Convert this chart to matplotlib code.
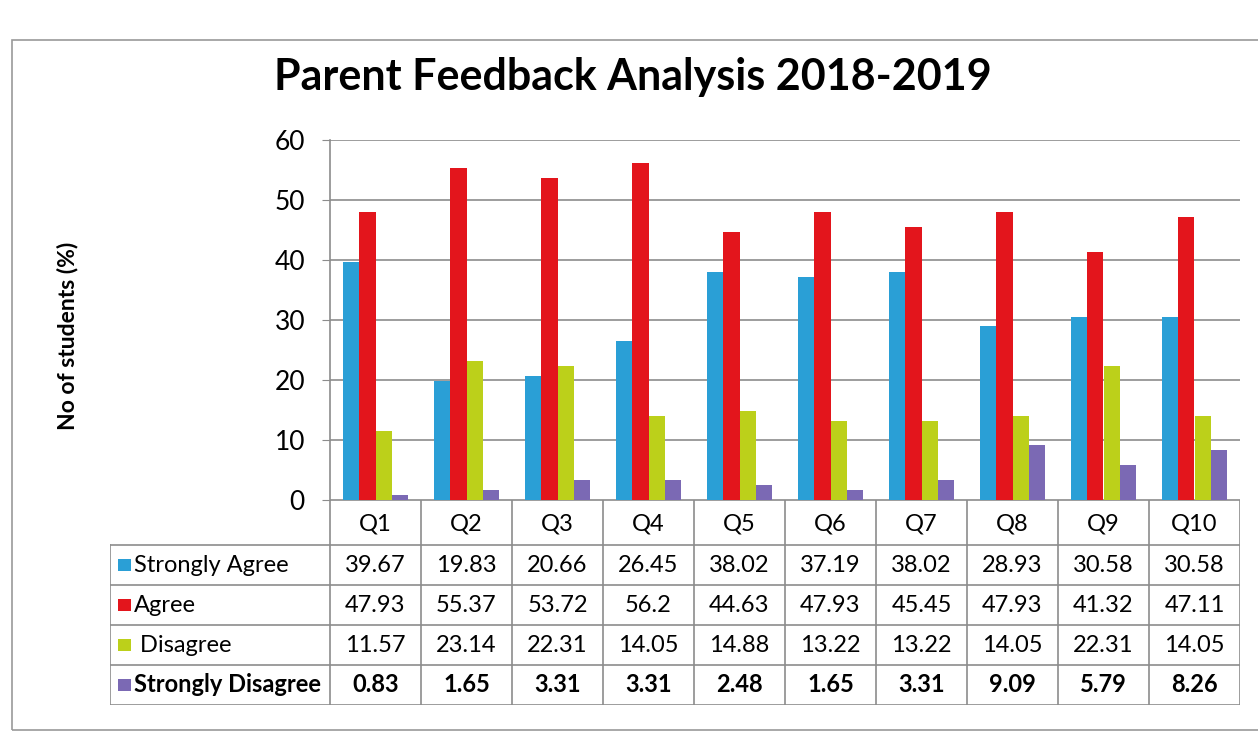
import matplotlib
matplotlib.use("Agg")
import matplotlib.pyplot as plt
from matplotlib.patches import Rectangle
import numpy as np

plt.rcParams['font.family'] = ['Lato', 'DejaVu Sans']

categories = ["Q1", "Q2", "Q3", "Q4", "Q5", "Q6", "Q7", "Q8", "Q9", "Q10"]
series_names = ["Strongly Agree", "Agree", "Disagree", "Strongly Disagree"]
strongly_agree = [39.67, 19.83, 20.66, 26.45, 38.02, 37.19, 38.02, 28.93, 30.58, 30.58]
agree = [47.93, 55.37, 53.72, 56.2, 44.63, 47.93, 45.45, 47.93, 41.32, 47.11]
disagree = [11.57, 23.14, 22.31, 14.05, 14.88, 13.22, 13.22, 14.05, 22.31, 14.05]
strongly_disagree = [0.83, 1.65, 3.31, 3.31, 2.48, 1.65, 3.31, 9.09, 5.79, 8.26]
table_text = [
    ["39.67", "19.83", "20.66", "26.45", "38.02", "37.19", "38.02", "28.93", "30.58", "30.58"],
    ["47.93", "55.37", "53.72", "56.2", "44.63", "47.93", "45.45", "47.93", "41.32", "47.11"],
    ["11.57", "23.14", "22.31", "14.05", "14.88", "13.22", "13.22", "14.05", "22.31", "14.05"],
    ["0.83", "1.65", "3.31", "3.31", "2.48", "1.65", "3.31", "9.09", "5.79", "8.26"],
]
row_labels = ["Strongly Agree", "Agree", " Disagree", "Strongly Disagree"]
colors = ["#2a9fd6", "#e3151c", "#bcd01a", "#7b69b4"]

W, H = 1258, 743
fig = plt.figure(figsize=(W / 100, H / 100), dpi=100)
fig.patch.set_facecolor("white")

def fx(px):
    return px / W

def fy(py):
    return 1 - py / H

# outer chart frame
fig.add_artist(Rectangle((fx(12), fy(730)), fx(1262) - fx(12), fy(40) - fy(730),
                         transform=fig.transFigure, fill=False, edgecolor="#9a9a9a", lw=1.2))

# main axes
L, R, T, B = 330, 1240, 140, 500
ax = fig.add_axes([fx(L), fy(B), fx(R) - fx(L), fy(T) - fy(B)])
x = np.arange(len(categories))
bw = 0.18
series = [strongly_agree, agree, disagree, strongly_disagree]
for i, (vals, c) in enumerate(zip(series, colors)):
    ax.bar(x + (i - 1.5) * bw, vals, width=bw, color=c, zorder=3)
ax.set_xlim(-0.5, len(categories) - 0.5)
ax.set_ylim(0, 60)
ax.set_yticks(range(0, 61, 10))
ax.yaxis.grid(True, color="#8c8c8c", lw=1.2, zorder=0)
ax.set_xticks([])
for s in ["top", "right", "bottom"]:
    ax.spines[s].set_visible(False)
ax.spines["left"].set_color("#8c8c8c")
ax.spines["left"].set_linewidth(1.2)
ax.tick_params(axis="y", length=6, color="#8c8c8c", labelsize=19, pad=12)

# y-axis title
fig.text(fx(67), fy(336), "No of students (%)", rotation=90, ha="center", va="center",
         fontsize=16.5, fontweight="bold")

# title
fig.text(fx(633), fy(77), "Parent Feedback Analysis 2018-2019", ha="center", va="center",
         fontsize=31, fontweight="bold")

# data table
TL, TT, TB = 110, 500, 705
tax = fig.add_axes([fx(TL), fy(TB), fx(R) - fx(TL), fy(TT) - fy(TB)])
lab_w = (L - TL) / ((R - L) / len(categories))
x0 = -0.5 - lab_w
tax.set_xlim(x0, len(categories) - 0.5)
tax.set_ylim(TB - TT, 0)
tax.axis("off")
row_edges = [0, 45, 85, 125, 165, 205]
lc = "#8c8c8c"
tax.plot([-0.5, len(categories) - 0.5], [0, 0], color=lc, lw=1.2)
for yy in row_edges[1:]:
    tax.plot([x0, len(categories) - 0.5], [yy, yy], color=lc, lw=1.2)
for k in range(len(categories) + 1):
    tax.plot([k - 0.5, k - 0.5], [0, 205], color=lc, lw=1.2)
tax.plot([x0, x0], [45, 205], color=lc, lw=1.2)

for k, c in enumerate(categories):
    tax.text(k, 24, c, ha="center", va="center", fontsize=17)
for r in range(4):
    yc = (row_edges[r + 1] + row_edges[r + 2]) / 2
    wt = "bold" if r == 3 else "normal"
    for k in range(len(categories)):
        tax.text(k, yc, table_text[r][k], ha="center", va="center", fontsize=17, fontweight=wt)
    tax.add_patch(Rectangle((x0 + 0.09, yc - 6), 0.14, 12, color=colors[r], lw=0))
    tax.text(x0 + 0.26, yc, row_labels[r], ha="left", va="center", fontsize=17, fontweight=wt)

fig.savefig("out.png", dpi=100)
